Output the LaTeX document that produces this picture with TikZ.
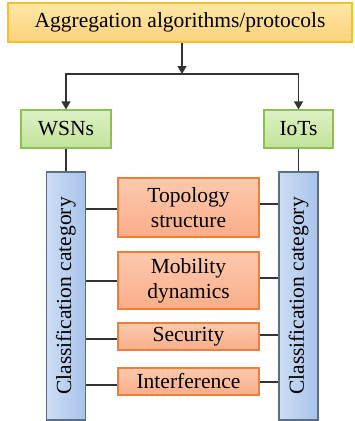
\documentclass[tikz,border=0pt]{standalone}
\usepackage{fontspec}
\setmainfont{Liberation Serif}
\usetikzlibrary{arrows.meta,positioning}
\definecolor{ybord}{HTML}{F5BE2A}
\definecolor{ytop}{HTML}{FFE7A6}
\definecolor{ybot}{HTML}{FDD27A}
\definecolor{gbord}{HTML}{8CC152}
\definecolor{gtop}{HTML}{DDF0C4}
\definecolor{gbot}{HTML}{C3E39A}
\definecolor{bbord}{HTML}{5B6E86}
\definecolor{bleft}{HTML}{CCDDF4}
\definecolor{bright}{HTML}{A8C3EA}
\definecolor{obord}{HTML}{EE7F3A}
\definecolor{otop}{HTML}{FDC9AE}
\definecolor{obot}{HTML}{F9AE88}
\definecolor{lnc}{HTML}{333333}
\tikzset{
  txt/.style={font=\fontsize{21.5}{25}\selectfont, text=black, align=center, inner sep=0pt},
  topbox/.style={txt, draw=ybord, line width=1.2pt, top color=ytop, bottom color=ybot, minimum width=344pt, minimum height=39pt},
  netbox/.style={txt, draw=gbord, line width=1.2pt, top color=gtop, bottom color=gbot, minimum height=38pt},
  catbar/.style={txt, draw=bbord, line width=1.2pt, left color=bleft, right color=bright, minimum width=39pt, minimum height=248pt},
  catbox/.style={txt, draw=obord, line width=1.2pt, top color=otop, bottom color=obot, minimum width=141pt},
  conn/.style={draw=lnc, line width=1.3pt},
  arr/.style={conn, -{Triangle[length=8pt,width=9pt]}}
}
\begin{document}
\begin{tikzpicture}[x=1pt,y=-1pt]
\useasboundingbox (0,0) rectangle (354,421);
\node[topbox] (top) at (180,22.5) {Aggregation algorithms/protocols};
\node[netbox, minimum width=90pt] (wsn) at (66,129) {WSNs};
\node[netbox, minimum width=69pt] (iot) at (298.5,129) {IoTs};
\node[catbar] (lbar) at (66,296) {};
\node[txt, rotate=90] (ltxt) at (lbar.center) {Classification category};
\node[catbar] (rbar) at (298.5,296) {};
\node[txt, rotate=90] (rtxt) at (rbar.center) {Classification category};
\node[catbox, minimum height=59pt] (topo) at (188.5,207.5) {Topology\\structure};
\node[catbox, minimum height=57pt] (mob) at (188.5,280.5) {Mobility\\dynamics};
\node[catbox, minimum height=27pt] (sec) at (188.5,336.5) {Security};
\node[catbox, minimum height=27pt] (intf) at (188.5,381.5) {Interference};
\coordinate (j) at (182,74);
\draw[arr] (top.south -| j) -- (j);
\draw[arr] (j) -| (wsn.north);
\draw[arr] (j) -| (iot.north);
\draw[conn] (wsn.south) -- (lbar.north);
\draw[conn] (iot.south) -- (rbar.north);
\draw[conn] (lbar.east |- 0,209) -- (topo.west |- 0,209);
\draw[conn] (lbar.east |- 0,281) -- (mob.west |- 0,281);
\draw[conn] (lbar.east |- 0,339) -- (sec.west |- 0,339);
\draw[conn] (lbar.east |- 0,385) -- (intf.west |- 0,385);
\draw[conn] (topo.east |- 0,204) -- (rbar.west |- 0,204);
\draw[conn] (mob.east |- 0,278) -- (rbar.west |- 0,278);
\draw[conn] (sec.east |- 0,335) -- (rbar.west |- 0,335);
\draw[conn] (intf.east |- 0,382) -- (rbar.west |- 0,382);
\end{tikzpicture}
\end{document}
